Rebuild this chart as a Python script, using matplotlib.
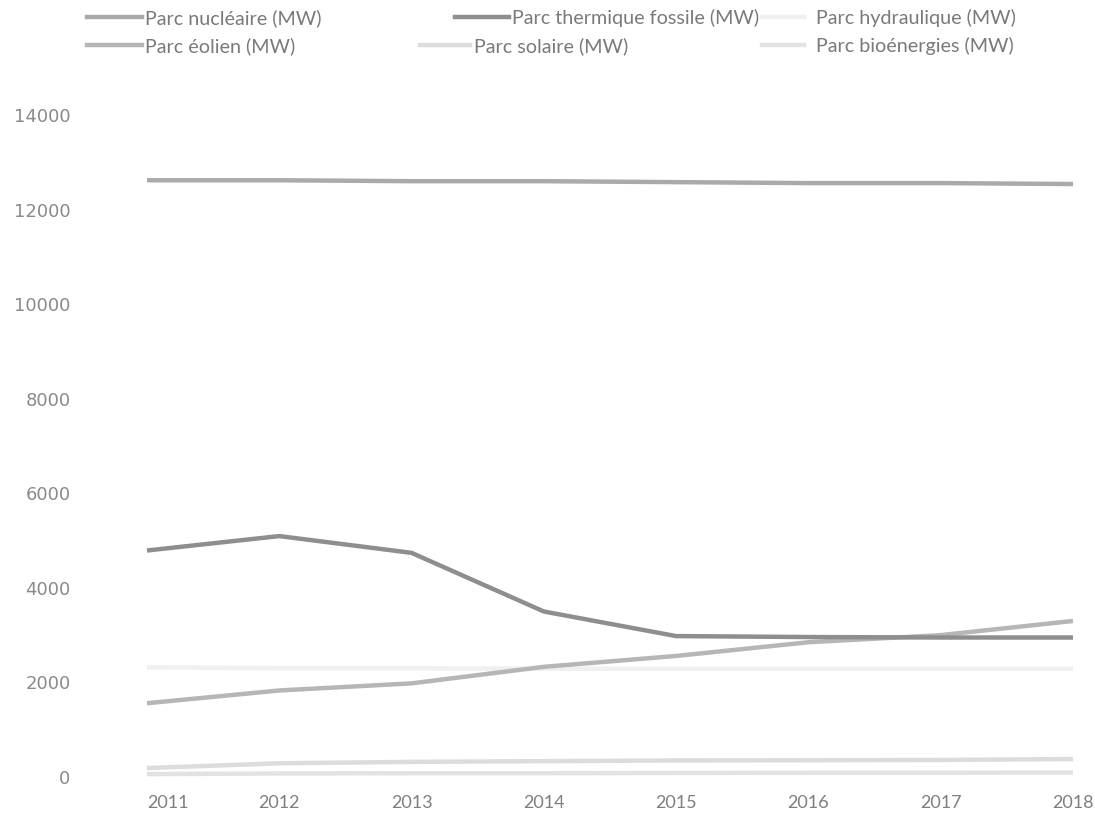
import matplotlib
matplotlib.use('Agg')
import matplotlib.pyplot as plt
from matplotlib.lines import Line2D

years = [2011, 2012, 2013, 2014, 2015, 2016, 2017, 2018]

nucleaire = [12620, 12620, 12600, 12600, 12580, 12560, 12560, 12540]
thermique = [4790, 5095, 4740, 3500, 2980, 2960, 2950, 2950]
hydraulique = [2320, 2300, 2300, 2290, 2290, 2290, 2290, 2290]
eolien = [1560, 1830, 1980, 2330, 2560, 2850, 3000, 3300]
solaire = [190, 290, 320, 335, 350, 355, 360, 380]
bioenergies = [60, 75, 80, 80, 85, 90, 90, 95]

labels = ['Parc nucléaire (MW)', 'Parc thermique fossile (MW)', 'Parc hydraulique (MW)',
          'Parc éolien (MW)', 'Parc solaire (MW)', 'Parc bioénergies (MW)']
series = [nucleaire, thermique, hydraulique, eolien, solaire, bioenergies]
colors = ['#aaaaaa', '#8e8e8e', '#f0f0f0', '#b6b6b6', '#dcdcdc', '#e2e2e2']

W, H = 1095, 823
fig = plt.figure(figsize=(W / 100, H / 100), dpi=100)
ax = fig.add_axes([147 / W, 1 - 777 / H, (1073 - 147) / W, (777 - 115) / H])

# light lines first so the darker ones sit on top
for i in [2, 5, 4, 3, 0, 1]:
    ax.plot(years, series[i], color=colors[i], lw=3.2, solid_capstyle='butt',
            clip_on=False, zorder=3 if i in (0, 1, 3) else 2)

ax.set_xlim(2011, 2018)
ax.set_ylim(0, 14000)
ax.set_yticks(range(0, 14001, 2000))
ax.set_yticklabels([str(v) for v in range(0, 14001, 2000)], fontsize=13,
                   color='#8a8a8a', family='DejaVu Sans')
ax.set_xticks(years)
ax.set_xticklabels([str(y) for y in years], fontsize=13, color='#7f7f7f', family='Lato')
ax.get_xticklabels()[0].set_horizontalalignment('left')
ax.tick_params(axis='y', length=0, pad=55)
ax.tick_params(axis='x', length=0, pad=13)
for s in ax.spines.values():
    s.set_visible(False)

# legend entries: (handle start x, handle end x, text start x, row center y)
leg_pos = [(87, 142, 145, 18), (455, 509, 512, 18), (762, 804, 816, 18),
           (87, 142, 145, 46), (420, 470, 474, 46), (762, 804, 816, 46)]
fs = 14.2
em = fs * 100 / 72
for i, (hx0, hx1, tx, yc) in enumerate(leg_pos):
    h = Line2D([], [], color=colors[i], lw=3.2)
    fig.legend(handles=[h], labels=[labels[i]], loc='center left',
               bbox_to_anchor=(hx0 / W, 1 - yc / H), frameon=False,
               handlelength=(hx1 - hx0) / em, handletextpad=(tx - hx1) / em,
               borderpad=0, borderaxespad=0,
               prop={'family': 'Lato', 'size': fs}, labelcolor='#7a7a7a')

fig.savefig('out.png', dpi=100, facecolor='white')
